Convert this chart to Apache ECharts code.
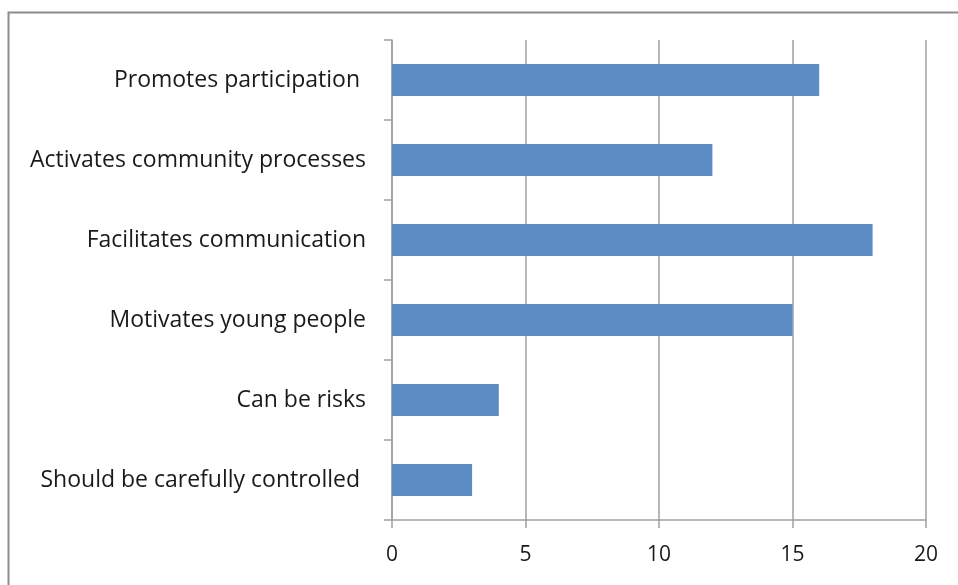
<!DOCTYPE html>
<html><head><meta charset="utf-8">
<script src="https://cdn.jsdelivr.net/npm/echarts@6/dist/echarts.min.js"></script>
<style>html,body{margin:0;padding:0;background:#fff}#c{width:958px;height:585px}</style>
</head><body><div id="c"></div>
<script>
const categories = ["Promotes participation ", "Activates community processes", "Facilitates communication", "Motivates young people", "Can be risks", "Should be carefully controlled "];
const values = [16, 12, 18, 15, 4, 3];
const xTicks = [0, 5, 10, 15, 20];

const chart = echarts.init(document.getElementById('c'));
chart.setOption({
  animation: false,
  graphic: [{type: 'rect', shape: {x: 8.5, y: 12.5, width: 980, height: 600}, style: {fill: 'none', stroke: '#8c8c8c', lineWidth: 2}}],
  grid: {left: 392, right: 32, top: 40, bottom: 65},
  xAxis: {
    type: 'value', min: xTicks[0], max: xTicks[xTicks.length - 1], interval: 5,
    axisLine: {show: true, lineStyle: {color: '#a0a0a0', width: 1.5}},
    axisTick: {show: true, length: 8, lineStyle: {color: '#a0a0a0', width: 1.5}},
    axisLabel: {fontFamily: 'Open Sans', fontSize: 21, color: '#1a1a1a', margin: 25},
    splitLine: {show: true, lineStyle: {color: '#a0a0a0', width: 1.5}}
  },
  yAxis: {
    type: 'category', data: categories, inverse: true,
    axisLine: {show: true, lineStyle: {color: '#a0a0a0', width: 1.5}},
    axisTick: {show: true, length: 8, lineStyle: {color: '#a0a0a0', width: 1.5}},
    axisLabel: {fontFamily: 'Open Sans', fontSize: 23, color: '#1a1a1a', margin: 26}
  },
  series: [{type: 'bar', data: values, barWidth: '40%', itemStyle: {color: '#5b8cc4'}}]
});
</script></body></html>
